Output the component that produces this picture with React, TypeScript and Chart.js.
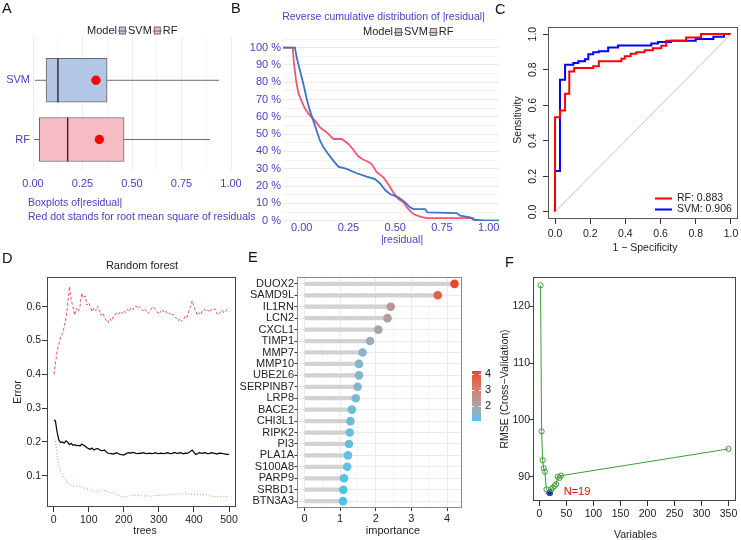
import React, { useEffect, useRef } from "react";
import { Chart, registerables } from "chart.js";

Chart.register(...registerables);

const FONT = '"Liberation Sans", Arial, Helvetica, sans-serif';
const INK = "#222222";
const VIOLET = "#4A40C0";

/* ---------- A: boxplots of |residual| ---------- */
const boxModels = ["SVM", "RF"];
const boxMin = [0.01, 0.005];
const boxQ1 = [0.066, 0.032];
const boxMedian = [0.126, 0.175];
const boxQ3 = [0.374, 0.46];
const boxMax = [0.94, 0.894];
const boxRmse = [0.318, 0.335];
const boxFill = ["#B3C6E5", "#F6BCC5"];
const boxTicks = [0, 0.125, 0.25, 0.375, 0.5, 0.625, 0.75, 0.875, 1];

/* ---------- B: reverse cumulative distribution ---------- */
const cdfTicksX = [0, 0.25, 0.5, 0.75, 1];
const cdfTicksY = [0, 5, 10, 15, 20, 25, 30, 35, 40, 45, 50, 55, 60, 65, 70, 75, 80, 85, 90, 95, 100, 105];
const svmResid = [-0.1, -0.036, -0.027, -0.009, 0.009, 0.027, 0.044, 0.062, 0.08, 0.098, 0.116, 0.142, 0.169, 0.196, 0.24, 0.294, 0.348, 0.392, 0.419, 0.446, 0.472, 0.517, 0.553, 0.579, 0.597, 0.66, 0.672, 0.829, 0.847, 0.9, 0.918, 0.98, 1.055];
const svmShare = [100, 100, 94.4, 86.7, 79, 70.3, 63.6, 57.8, 52, 46.2, 42.4, 38.5, 34.7, 31.2, 29.9, 27.4, 25.4, 24, 21.5, 17.7, 15.4, 13.5, 10.6, 7.7, 6.7, 6.7, 4.8, 4.4, 2.9, 1.9, 0.6, 0, 0];
const rfResid = [-0.1, -0.048, -0.041, -0.03, -0.018, 0, 0.018, 0.044, 0.071, 0.098, 0.134, 0.169, 0.214, 0.25, 0.276, 0.3, 0.325, 0.348, 0.374, 0.401, 0.437, 0.463, 0.49, 0.517, 0.544, 0.57, 0.597, 0.633, 0.668, 0.918, 0.927, 1.055];
const rfShare = [100, 100, 90.6, 81, 74, 69, 64.6, 60.7, 57.8, 53.9, 51, 47.2, 47.2, 44.3, 41, 37.5, 35.5, 34.5, 32.7, 28, 25, 21, 16.3, 12.5, 10.6, 6.7, 3.8, 2.3, 1.5, 1.5, 0, 0];

/* ---------- C: ROC curves ---------- */
const rocTicks = [0, 0.2, 0.4, 0.6, 0.8, 1];
const rfFpr = [0, 0, 0.028, 0.028, 0.057, 0.057, 0.081, 0.081, 0.109, 0.109, 0.217, 0.217, 0.249, 0.249, 0.377, 0.377, 0.396, 0.396, 0.43, 0.43, 0.462, 0.462, 0.509, 0.509, 0.556, 0.556, 0.604, 0.604, 0.632, 0.632, 0.745, 0.745, 0.83, 0.83, 1];
const rfTpr = [0, 0.532, 0.532, 0.57, 0.57, 0.664, 0.664, 0.79, 0.79, 0.809, 0.809, 0.819, 0.819, 0.847, 0.847, 0.862, 0.862, 0.875, 0.875, 0.889, 0.889, 0.898, 0.898, 0.909, 0.909, 0.921, 0.921, 0.934, 0.934, 0.962, 0.962, 0.981, 0.981, 1, 1];
const svmFpr = [0, 0, 0.028, 0.028, 0.057, 0.057, 0.104, 0.104, 0.132, 0.132, 0.17, 0.17, 0.189, 0.189, 0.217, 0.217, 0.249, 0.249, 0.302, 0.302, 0.358, 0.358, 0.547, 0.547, 0.585, 0.585, 0.66, 0.66, 0.8, 0.8, 0.9, 0.9, 0.96, 0.96, 1];
const svmTpr = [0, 0.23, 0.23, 0.743, 0.743, 0.828, 0.828, 0.838, 0.838, 0.847, 0.847, 0.858, 0.858, 0.887, 0.887, 0.898, 0.898, 0.904, 0.904, 0.925, 0.925, 0.936, 0.936, 0.947, 0.947, 0.955, 0.955, 0.962, 0.962, 0.972, 0.972, 0.985, 0.985, 1, 1];
const aucRF = 0.883;
const aucSVM = 0.906;

/* ---------- D: random forest error by number of trees ---------- */
const trees = [1, 5, 10, 15, 20, 25, 30, 35, 40, 45, 50, 55, 60, 65, 70, 75, 80, 85, 90, 95, 100, 105, 110, 115, 120, 125, 130, 135, 140, 145, 150, 155, 160, 165, 170, 175, 180, 185, 190, 195, 200, 205, 210, 215, 220, 225, 230, 235, 240, 245, 250, 255, 260, 265, 270, 275, 280, 285, 290, 295, 300, 305, 310, 315, 320, 325, 330, 335, 340, 345, 350, 355, 360, 365, 370, 375, 380, 385, 390, 395, 400, 405, 410, 415, 420, 425, 430, 435, 440, 445, 450, 455, 460, 465, 470, 475, 480, 485, 490, 495, 500];
const errOOB = [
  0.265, 0.262, 0.228, 0.205, 0.198, 0.2, 0.196, 0.203, 0.199, 0.192,
  0.196, 0.19, 0.192, 0.189, 0.19, 0.188, 0.193, 0.191, 0.187, 0.183,
  0.18, 0.178, 0.182, 0.176, 0.179, 0.181, 0.177, 0.175, 0.174, 0.176,
  0.17, 0.167, 0.165, 0.166, 0.164, 0.166, 0.168, 0.165, 0.163, 0.162,
  0.161, 0.164, 0.167, 0.168, 0.167, 0.169, 0.168, 0.166, 0.165, 0.167,
  0.166, 0.168, 0.167, 0.165, 0.166, 0.167, 0.165, 0.166, 0.168, 0.166,
  0.165, 0.167, 0.166, 0.165, 0.167, 0.168, 0.166, 0.165, 0.167, 0.169,
  0.167, 0.166, 0.168, 0.167, 0.165, 0.167, 0.166, 0.168, 0.172, 0.176,
  0.17, 0.163, 0.165, 0.168, 0.167, 0.166, 0.168, 0.167, 0.165, 0.166,
  0.168, 0.167, 0.166, 0.164, 0.166, 0.167, 0.166, 0.165, 0.164, 0.163,
  0.163,
];
const errClass1 = [
  0.4, 0.43, 0.47, 0.49, 0.51, 0.52, 0.54, 0.565, 0.605, 0.66,
  0.62, 0.6, 0.575, 0.595, 0.585, 0.6, 0.64, 0.625, 0.632, 0.605,
  0.612, 0.6, 0.585, 0.596, 0.588, 0.602, 0.59, 0.575, 0.582, 0.568,
  0.56, 0.552, 0.565, 0.558, 0.57, 0.575, 0.583, 0.578, 0.586, 0.58,
  0.588, 0.582, 0.592, 0.586, 0.596, 0.59, 0.598, 0.603, 0.595, 0.6,
  0.592, 0.588, 0.594, 0.585, 0.58, 0.588, 0.596, 0.6, 0.592, 0.585,
  0.578, 0.586, 0.592, 0.584, 0.588, 0.578, 0.582, 0.574, 0.578, 0.57,
  0.566, 0.558, 0.565, 0.556, 0.562, 0.572, 0.568, 0.585, 0.598, 0.618,
  0.6, 0.588, 0.575, 0.582, 0.576, 0.59, 0.592, 0.586, 0.59, 0.584,
  0.592, 0.588, 0.594, 0.58, 0.576, 0.584, 0.59, 0.582, 0.586, 0.592,
  0.586,
];
const errClass2 = [
  0.21, 0.205, 0.16, 0.128, 0.112, 0.102, 0.092, 0.085, 0.078, 0.074,
  0.071, 0.069, 0.068, 0.07, 0.072, 0.069, 0.066, 0.064, 0.063, 0.061,
  0.059, 0.058, 0.056, 0.054, 0.053, 0.052, 0.055, 0.057, 0.058, 0.056,
  0.054, 0.052, 0.05, 0.049, 0.047, 0.045, 0.043, 0.041, 0.039, 0.037,
  0.036, 0.038, 0.039, 0.041, 0.04, 0.042, 0.041, 0.043, 0.042, 0.041,
  0.04, 0.039, 0.04, 0.041, 0.04, 0.039, 0.04, 0.041, 0.04, 0.042,
  0.041, 0.042, 0.043, 0.042, 0.041, 0.043, 0.044, 0.045, 0.046, 0.045,
  0.046, 0.047, 0.046, 0.045, 0.046, 0.047, 0.046, 0.045, 0.046, 0.045,
  0.044, 0.045, 0.046, 0.045, 0.044, 0.043, 0.044, 0.043, 0.044, 0.042,
  0.04, 0.039, 0.038, 0.038, 0.037, 0.038, 0.038, 0.037, 0.038, 0.039,
  0.038,
];
const treeTicks = [0, 100, 200, 300, 400, 500];
const errTicks = [0.1, 0.2, 0.3, 0.4, 0.5, 0.6];

/* ---------- E: variable importance ---------- */
const genes = ["DUOX2", "SAMD9L", "IL1RN", "LCN2", "CXCL1", "TIMP1", "MMP7", "MMP10", "UBE2L6", "SERPINB7", "LRP8", "BACE2", "CHI3L1", "RIPK2", "PI3", "PLA1A", "S100A8", "PARP9", "SRBD1", "BTN3A3"];
const importance = [4.21, 3.74, 2.42, 2.33, 2.07, 1.84, 1.63, 1.53, 1.53, 1.49, 1.44, 1.33, 1.29, 1.27, 1.25, 1.22, 1.2, 1.11, 1.09, 1.08];
const impTicks = [0, 0.5, 1, 1.5, 2, 2.5, 3, 3.5, 4];
const impLegendTicks = [2, 3, 4];
const impLow = "#4BC4E7";
const impHigh = "#E8472A";

/* ---------- F: cross-validated RMSE by number of variables ---------- */
const nVars = [2, 4, 6, 8, 10, 13, 19, 22, 25, 28, 31, 34, 37, 40, 350];
const rmse = [123.7, 98.0, 92.9, 91.5, 90.9, 87.8, 87.2, 87.8, 88.1, 88.4, 88.7, 90.0, 89.8, 90.2, 94.9];
const bestN = 19;
const varTicks = [0, 50, 100, 150, 200, 250, 300, 350];
const rmseTicks = [90, 100, 110, 120];

/* ---------- helpers ---------- */
type Rect = { x0: number; y0: number; x1: number; y1: number };
type Area = { left: number; top: number; right: number; bottom: number };

const fnt = (size: number, weight = "normal") => `${weight} ${size}px ${FONT}`;

function zeroPad(s: any) {
  s.paddingLeft = 0;
  s.paddingRight = 0;
  s.paddingTop = 0;
  s.paddingBottom = 0;
}

function geometry(c: Rect, a: Area) {
  return {
    layout: { padding: { left: 0, top: a.top - c.y0, right: c.x1 - a.right, bottom: 0 } },
    yFit: (s: any) => {
      s.width = a.left - c.x0;
      zeroPad(s);
    },
    xFit: (s: any) => {
      s.height = c.y1 - a.bottom;
      zeroPad(s);
    },
  };
}

const fixedTicks = (vals: number[]) => (s: any) => {
  s.ticks = vals.map((v) => ({ value: v }));
};

function drawText(ctx: CanvasRenderingContext2D, s: string, x: number, y: number, o: any = {}) {
  ctx.save();
  ctx.font = fnt(o.size ?? 10.5, o.weight ?? "normal");
  ctx.fillStyle = o.color ?? INK;
  ctx.textAlign = o.align ?? "center";
  ctx.textBaseline = o.baseline ?? "middle";
  ctx.translate(x, y);
  if (o.rotate) ctx.rotate(o.rotate);
  ctx.fillText(s, 0, 0);
  ctx.restore();
}

function pageArea(chart: any, r: Rect) {
  const ca = chart.chartArea;
  return { left: ca.left + r.x0, right: ca.right + r.x0, top: ca.top + r.y0, bottom: ca.bottom + r.y0 };
}

function decor(id: string, r: Rect, hook: string, fn: (ctx: CanvasRenderingContext2D, chart: any) => void) {
  return {
    id,
    [hook](chart: any) {
      const ctx = chart.ctx;
      ctx.save();
      ctx.translate(-r.x0, -r.y0);
      fn(ctx, chart);
      ctx.restore();
    },
  };
}

function frameBox(ctx: CanvasRenderingContext2D, chart: any, r: Rect, color: string) {
  const a = pageArea(chart, r);
  ctx.strokeStyle = color;
  ctx.lineWidth = 1;
  ctx.strokeRect(Math.round(a.left) + 0.5, Math.round(a.top) + 0.5, Math.round(a.right - a.left) - 1, Math.round(a.bottom - a.top) - 1);
}

function boxKey(ctx: CanvasRenderingContext2D, x: number, y: number, fill: string) {
  ctx.strokeStyle = "#6A6A6A";
  ctx.lineWidth = 1;
  ctx.beginPath();
  ctx.moveTo(x, y + 0.5);
  ctx.lineTo(x + 9, y + 0.5);
  ctx.stroke();
  ctx.fillStyle = fill;
  ctx.fillRect(x + 1.5, y - 3.5, 6, 7);
  ctx.strokeRect(x + 1.5, y - 3.5, 6, 7);
  ctx.beginPath();
  ctx.moveTo(x + 1.5, y + 0.5);
  ctx.lineTo(x + 7.5, y + 0.5);
  ctx.stroke();
}

function modelLegend(ctx: CanvasRenderingContext2D, x: number, y: number) {
  ctx.font = fnt(11);
  let cx = x;
  drawText(ctx, "Model", cx, y, { size: 11, align: "left" });
  cx += ctx.measureText("Model").width + 1;
  boxModels.forEach((m, i) => {
    boxKey(ctx, cx, y, boxFill[i]);
    cx += 10;
    drawText(ctx, m, cx, y, { size: 11, align: "left" });
    ctx.font = fnt(11);
    cx += ctx.measureText(m).width + 1;
  });
}

/* CIELAB interpolation for the importance colour scale */
function toLin(c: number) {
  c /= 255;
  return c <= 0.04045 ? c / 12.92 : Math.pow((c + 0.055) / 1.055, 2.4);
}
function toSrgb(c: number) {
  const v = c <= 0.0031308 ? 12.92 * c : 1.055 * Math.pow(c, 1 / 2.4) - 0.055;
  return Math.round(Math.max(0, Math.min(1, v)) * 255);
}
function hexToLab(hex: string) {
  const r = toLin(parseInt(hex.slice(1, 3), 16));
  const g = toLin(parseInt(hex.slice(3, 5), 16));
  const b = toLin(parseInt(hex.slice(5, 7), 16));
  const X = (0.4124 * r + 0.3576 * g + 0.1805 * b) / 0.95047;
  const Y = 0.2126 * r + 0.7152 * g + 0.0722 * b;
  const Z = (0.0193 * r + 0.1192 * g + 0.9505 * b) / 1.08883;
  const f = (t: number) => (t > 0.008856 ? Math.cbrt(t) : 7.787 * t + 16 / 116);
  return [116 * f(Y) - 16, 500 * (f(X) - f(Y)), 200 * (f(Y) - f(Z))];
}
function labToRgb(L: number, A: number, B: number) {
  const fy = (L + 16) / 116;
  const fx = fy + A / 500;
  const fz = fy - B / 200;
  const inv = (t: number) => (t * t * t > 0.008856 ? t * t * t : (t - 16 / 116) / 7.787);
  const X = inv(fx) * 0.95047;
  const Y = inv(fy);
  const Z = inv(fz) * 1.08883;
  const r = 3.2406 * X - 1.5372 * Y - 0.4986 * Z;
  const g = -0.9689 * X + 1.8758 * Y + 0.0415 * Z;
  const b = 0.0557 * X - 0.204 * Y + 1.057 * Z;
  return `rgb(${toSrgb(r)},${toSrgb(g)},${toSrgb(b)})`;
}
const labLow = hexToLab(impLow);
const labHigh = hexToLab(impHigh);
const impMin = Math.min(...importance);
const impMax = Math.max(...importance);
function impColor(v: number) {
  const t = (v - impMin) / (impMax - impMin);
  return labToRgb(
    labLow[0] + (labHigh[0] - labLow[0]) * t,
    labLow[1] + (labHigh[1] - labLow[1]) * t,
    labLow[2] + (labHigh[2] - labLow[2]) * t
  );
}

const baseOptions = {
  responsive: false,
  animation: false,
  events: [],
  plugins: { legend: { display: false }, tooltip: { enabled: false }, title: { display: false } },
};

/* ---------- panel A ---------- */
const rA: Rect = { x0: 0, y0: 0, x1: 255, y1: 240 };
const aA: Area = { left: 33, top: 37, right: 231, bottom: 170 };
function makeA() {
  const g = geometry(rA, aA);
  const pos = boxModels.map((_, i) => boxModels.length - i);
  return {
    type: "bar",
    data: {
      datasets: [
        {
          type: "bar",
          data: boxModels.map((_, i) => ({ x: [boxQ1[i], boxQ3[i]], y: pos[i] })),
          backgroundColor: boxFill,
          borderColor: "#6A6A6A",
          borderWidth: 1,
          borderSkipped: false,
          barThickness: 44,
          order: 2,
        },
        {
          type: "scatter",
          data: boxModels.map((_, i) => ({ x: boxRmse[i], y: pos[i] })),
          backgroundColor: "#FF0000",
          borderWidth: 0,
          pointRadius: 4.7,
          order: 1,
        },
      ],
    },
    options: {
      ...baseOptions,
      indexAxis: "y",
      layout: g.layout,
      scales: {
        x: {
          type: "linear",
          min: 0,
          max: 1,
          afterBuildTicks: fixedTicks(boxTicks),
          afterFit: g.xFit,
          grid: { color: "#EBEBEB", lineWidth: (c: any) => ((c.tick.value * 4) % 1 === 0 ? 1 : 0.6), drawTicks: false },
          border: { display: false },
          ticks: {
            color: VIOLET,
            font: { family: FONT, size: 11 },
            padding: 7.5,
            maxRotation: 0,
            autoSkip: false,
            callback: (v: number) => ((v * 4) % 1 === 0 ? v.toFixed(2) : ""),
          },
        },
        y: {
          type: "linear",
          offset: false,
          min: 0.485,
          max: 2.731,
          afterBuildTicks: fixedTicks(pos),
          afterFit: g.yFit,
          grid: { display: false, drawTicks: false, offset: false },
          border: { display: false },
          ticks: {
            color: VIOLET,
            font: { family: FONT, size: 11 },
            padding: 3,
            callback: (v: number) => boxModels[boxModels.length - v],
          },
        },
      },
    },
    plugins: [
      decor("boxparts", rA, "afterDatasetsDraw", (ctx, chart) => {
        const sx = (v: number) => chart.scales.x.getPixelForValue(v) + rA.x0;
        const bars = chart.getDatasetMeta(0).data;
        boxModels.forEach((_, i) => {
          const y = bars[i].y + rA.y0;
          const h = bars[i].height;
          ctx.strokeStyle = "#6A6A6A";
          ctx.lineWidth = 1;
          ctx.beginPath();
          ctx.moveTo(sx(boxMin[i]), y);
          ctx.lineTo(sx(boxQ1[i]), y);
          ctx.moveTo(sx(boxQ3[i]), y);
          ctx.lineTo(sx(boxMax[i]), y);
          ctx.stroke();
          ctx.strokeStyle = "#2B2B2B";
          ctx.lineWidth = 1.4;
          ctx.beginPath();
          ctx.moveTo(sx(boxMedian[i]), y - h / 2);
          ctx.lineTo(sx(boxMedian[i]), y + h / 2);
          ctx.stroke();
        });
      }),
      decor("boxtext", rA, "afterDraw", (ctx) => {
        modelLegend(ctx, 87, 30.5);
        drawText(ctx, "Boxplots of|residual|", 28, 203, { color: VIOLET, align: "left", size: 10.5 });
        drawText(ctx, "Red dot stands for root mean square of residuals", 28, 217, { color: VIOLET, align: "left", size: 10.5 });
      }),
    ],
  };
}

/* ---------- panel B ---------- */
const rB: Rect = { x0: 240, y0: 0, x1: 500, y1: 250 };
const aB: Area = { left: 283, top: 39, right: 499, bottom: 221 };
function makeB() {
  const g = geometry(rB, aB);
  return {
    type: "line",
    data: {
      datasets: [
        { data: svmResid.map((x, i) => ({ x, y: svmShare[i] })), borderColor: "#3D74C5", borderWidth: 1.8, pointRadius: 0 },
        { data: rfResid.map((x, i) => ({ x, y: rfShare[i] })), borderColor: "#F4566F", borderWidth: 1.8, pointRadius: 0 },
      ],
    },
    options: {
      ...baseOptions,
      layout: g.layout,
      scales: {
        x: {
          type: "linear",
          min: -0.1,
          max: 1.055,
          afterBuildTicks: fixedTicks(cdfTicksX),
          afterFit: g.xFit,
          grid: { display: false, drawTicks: false },
          border: { display: false },
          ticks: { color: VIOLET, font: { family: FONT, size: 11 }, padding: 0, maxRotation: 0, autoSkip: false, callback: (v: number) => v.toFixed(2) },
        },
        y: {
          type: "linear",
          min: -0.2,
          max: 105,
          afterBuildTicks: fixedTicks(cdfTicksY),
          afterFit: g.yFit,
          grid: { color: "#EBEBEB", lineWidth: (c: any) => (c.tick.value % 10 === 0 ? 1 : 0.6), drawTicks: false },
          border: { display: false },
          ticks: {
            color: VIOLET,
            font: { family: FONT, size: 11 },
            padding: 2,
            autoSkip: false,
            callback: (v: number) => (v % 10 === 0 && v <= 100 ? `${v} %` : ""),
          },
        },
      },
    },
    plugins: [
      decor("cdftext", rB, "afterDraw", (ctx) => {
        drawText(ctx, "Reverse cumulative distribution of |residual|", 383.5, 17, { color: VIOLET, size: 10.5 });
        modelLegend(ctx, 363, 32);
        drawText(ctx, "|residual|", 402, 240, { color: VIOLET, size: 10.5 });
      }),
    ],
  };
}

/* ---------- panel C ---------- */
const rC: Rect = { x0: 495, y0: 0, x1: 741, y1: 255 };
const aC: Area = { left: 548, top: 27, right: 738, bottom: 219 };
function makeC() {
  const g = geometry(rC, aC);
  const axisGrid = { drawOnChartArea: false, drawTicks: true, tickLength: 5, color: "#333333" };
  return {
    type: "line",
    data: {
      datasets: [
        { data: [{ x: 0, y: 0 }, { x: 1, y: 1 }], borderColor: "#C4C4C4", borderWidth: 1, pointRadius: 0 },
        { data: rfFpr.map((x, i) => ({ x, y: rfTpr[i] })), borderColor: "#FF0000", borderWidth: 2, pointRadius: 0 },
        { data: svmFpr.map((x, i) => ({ x, y: svmTpr[i] })), borderColor: "#0000FF", borderWidth: 2, pointRadius: 0 },
      ],
    },
    options: {
      ...baseOptions,
      layout: g.layout,
      scales: {
        x: {
          type: "linear",
          min: -0.04,
          max: 1.04,
          afterBuildTicks: fixedTicks(rocTicks),
          afterFit: g.xFit,
          grid: axisGrid,
          border: { display: false },
          ticks: { color: INK, font: { family: FONT, size: 10.5 }, padding: 4, maxRotation: 0, autoSkip: false, callback: (v: number) => v.toFixed(1) },
        },
        y: {
          type: "linear",
          min: -0.04,
          max: 1.04,
          afterBuildTicks: fixedTicks(rocTicks),
          afterFit: g.yFit,
          grid: axisGrid,
          border: { display: false },
          ticks: { display: false },
        },
      },
    },
    plugins: [
      decor("roctext", rC, "afterDraw", (ctx, chart) => {
        frameBox(ctx, chart, rC, "#555555");
        const sy = (v: number) => chart.scales.y.getPixelForValue(v) + rC.y0;
        rocTicks.forEach((v) => drawText(ctx, v.toFixed(1), 533, sy(v), { rotate: -Math.PI / 2 }));
        drawText(ctx, "Sensitivity", 518, 120, { rotate: -Math.PI / 2 });
        drawText(ctx, "1 \u2212 Specificity", 645, 248);
        const rows = [
          { t: `RF: ${aucRF.toFixed(3)}`, c: "#FF0000", y: 198.5 },
          { t: `SVM: ${aucSVM.toFixed(3)}`, c: "#0000FF", y: 209.5 },
        ];
        rows.forEach((r) => {
          ctx.strokeStyle = r.c;
          ctx.lineWidth = 2;
          ctx.beginPath();
          ctx.moveTo(655, r.y);
          ctx.lineTo(672, r.y);
          ctx.stroke();
          drawText(ctx, r.t, 677, r.y, { align: "left" });
        });
      }),
    ],
  };
}

/* ---------- panel D ---------- */
const rD: Rect = { x0: 0, y0: 255, x1: 245, y1: 540 };
const aD: Area = { left: 47, top: 277, right: 236, bottom: 507 };
function makeD() {
  const g = geometry(rD, aD);
  const axisGrid = { drawOnChartArea: false, drawTicks: true, tickLength: 5, color: "#333333" };
  const series = (vals: number[]) => trees.map((t, i) => ({ x: t, y: vals[i] }));
  return {
    type: "line",
    data: {
      datasets: [
        { data: series(errOOB), borderColor: "#000000", borderWidth: 1.2, pointRadius: 0 },
        { data: series(errClass1), borderColor: "#DF536B", borderWidth: 1, borderDash: [3, 2], pointRadius: 0 },
        { data: series(errClass2), borderColor: "#61D04F", borderWidth: 1, borderDash: [1, 2], pointRadius: 0 },
      ],
    },
    options: {
      ...baseOptions,
      layout: g.layout,
      scales: {
        x: {
          type: "linear",
          min: -18.96,
          max: 519.96,
          afterBuildTicks: fixedTicks(treeTicks),
          afterFit: g.xFit,
          grid: axisGrid,
          border: { display: false },
          ticks: { color: INK, font: { family: FONT, size: 10.5 }, padding: 2, maxRotation: 0, autoSkip: false },
        },
        y: {
          type: "linear",
          min: 0.0074,
          max: 0.688,
          afterBuildTicks: fixedTicks(errTicks),
          afterFit: g.yFit,
          grid: axisGrid,
          border: { display: false },
          ticks: { color: INK, font: { family: FONT, size: 10.5 }, padding: 1, callback: (v: number) => v.toFixed(1) },
        },
      },
    },
    plugins: [
      decor("rftext", rD, "afterDraw", (ctx, chart) => {
        frameBox(ctx, chart, rD, "#444444");
        drawText(ctx, "Random forest", 142, 266, { size: 11 });
        drawText(ctx, "Error", 18, 392, { rotate: -Math.PI / 2 });
        drawText(ctx, "trees", 145, 531);
      }),
    ],
  };
}

/* ---------- panel E ---------- */
const rE: Rect = { x0: 236, y0: 255, x1: 495, y1: 540 };
const aE: Area = { left: 297, top: 277, right: 462, bottom: 508 };
function makeE() {
  const g = geometry(rE, aE);
  const pos = genes.map((_, i) => genes.length - i);
  const pts = genes.map((_, i) => ({ x: importance[i], y: pos[i] }));
  return {
    type: "bar",
    data: {
      datasets: [
        { type: "bar", data: pts, backgroundColor: "#D2D2D2", barThickness: 3.6, borderWidth: 0, order: 2 },
        { type: "scatter", data: pts, backgroundColor: importance.map(impColor), borderWidth: 0, pointRadius: 4.3, order: 1 },
      ],
    },
    options: {
      ...baseOptions,
      indexAxis: "y",
      layout: g.layout,
      scales: {
        x: {
          type: "linear",
          min: -0.21,
          max: 4.42,
          afterBuildTicks: fixedTicks(impTicks),
          afterFit: g.xFit,
          grid: {
            color: "#EBEBEB",
            lineWidth: (c: any) => (c.tick && c.tick.value % 1 === 0 ? 1 : 0.5),
            tickColor: (c: any) => (c.tick && c.tick.value % 1 === 0 ? "#333333" : "rgba(0,0,0,0)"),
            tickLength: 3,
          },
          border: { display: false },
          ticks: {
            color: INK,
            font: { family: FONT, size: 11 },
            padding: 1,
            maxRotation: 0,
            autoSkip: false,
            callback: (v: number) => (v % 1 === 0 ? String(v) : ""),
          },
        },
        y: {
          type: "linear",
          offset: false,
          min: 0.4,
          max: genes.length + 0.6,
          afterBuildTicks: fixedTicks(pos),
          afterFit: g.yFit,
          grid: { color: "#EBEBEB", tickColor: "#333333", tickLength: 2.5, offset: false },
          border: { display: false },
          ticks: { color: INK, font: { family: FONT, size: 11 }, padding: 0.5, autoSkip: false, callback: (v: number) => genes[genes.length - v] },
        },
      },
    },
    plugins: [
      decor("imptext", rE, "afterDraw", (ctx, chart) => {
        frameBox(ctx, chart, rE, "#8A8A8A");
        drawText(ctx, "importance", 393, 531, { size: 11 });
        // colour bar legend
        const bx = 472;
        const bw = 9;
        const top = 371;
        const bottom = 421;
        const vy = (v: number) => bottom - ((v - impMin) / (impMax - impMin)) * (bottom - top);
        for (let y = top; y < bottom; y++) {
          const v = impMin + ((bottom - y - 0.5) / (bottom - top)) * (impMax - impMin);
          ctx.fillStyle = impColor(v);
          ctx.fillRect(bx, y, bw, 1);
        }
        impLegendTicks.forEach((v) => {
          const y = Math.round(vy(v)) + 0.5;
          ctx.strokeStyle = "#FFFFFF";
          ctx.lineWidth = 1;
          ctx.beginPath();
          ctx.moveTo(bx, y);
          ctx.lineTo(bx + 2, y);
          ctx.moveTo(bx + bw - 2, y);
          ctx.lineTo(bx + bw, y);
          ctx.stroke();
          drawText(ctx, String(v), bx + bw + 4, vy(v), { align: "left", size: 11 });
        });
      }),
    ],
  };
}

/* ---------- panel F ---------- */
const rF: Rect = { x0: 495, y0: 255, x1: 741, y1: 540 };
const aF: Area = { left: 533, top: 277, right: 738, bottom: 501 };
function makeF() {
  const g = geometry(rF, aF);
  const axisGrid = { drawOnChartArea: false, drawTicks: true, tickLength: 4, color: "#333333" };
  const best = { x: bestN, y: rmse[nVars.indexOf(bestN)] };
  const green = "#3E9A3E";
  return {
    type: "line",
    data: {
      datasets: [
        {
          data: nVars.map((n, i) => ({ x: n, y: rmse[i] })),
          borderColor: green,
          borderWidth: 1,
          pointRadius: 2.6,
          pointBorderWidth: 1,
          pointBorderColor: green,
          pointBackgroundColor: "rgba(0,0,0,0)",
        },
        { type: "scatter", data: [best], backgroundColor: "#0000FF", borderColor: "#0000FF", pointRadius: 3 },
      ],
    },
    options: {
      ...baseOptions,
      layout: g.layout,
      scales: {
        x: {
          type: "linear",
          min: -11.92,
          max: 363.92,
          afterBuildTicks: fixedTicks(varTicks),
          afterFit: g.xFit,
          grid: { ...axisGrid, tickLength: 5 },
          border: { display: false },
          ticks: { color: INK, font: { family: FONT, size: 10.5 }, padding: 2, maxRotation: 0, autoSkip: false },
        },
        y: {
          type: "linear",
          min: 85.74,
          max: 125.16,
          afterBuildTicks: fixedTicks(rmseTicks),
          afterFit: g.yFit,
          grid: axisGrid,
          border: { display: false },
          ticks: { color: INK, font: { family: FONT, size: 10.5 }, padding: -1 },
        },
      },
    },
    plugins: [
      decor("rmsetext", rF, "afterDraw", (ctx, chart) => {
        frameBox(ctx, chart, rF, "#444444");
        const sx = chart.scales.x.getPixelForValue(best.x) + rF.x0;
        const sy = chart.scales.y.getPixelForValue(best.y) + rF.y0;
        drawText(ctx, `N=${bestN}`, sx + 14, sy - 1, { color: "#FF0000", align: "left", size: 11 });
        drawText(ctx, "RMSE (Cross\u2212Validation)", 505, 389, { rotate: -Math.PI / 2 });
        drawText(ctx, "Variables", 635.5, 535);
      }),
    ],
  };
}

/* ---------- components ---------- */
function ChartBox({ rect, make }: { rect: Rect; make: () => any }) {
  const ref = useRef<HTMLCanvasElement | null>(null);
  useEffect(() => {
    const chart = new Chart(ref.current as HTMLCanvasElement, make());
    return () => chart.destroy();
  }, []);
  const w = rect.x1 - rect.x0;
  const h = rect.y1 - rect.y0;
  return (
    <canvas
      ref={ref}
      width={w}
      height={h}
      style={{ position: "absolute", left: rect.x0, top: rect.y0, width: w, height: h }}
    />
  );
}

const panelTags = [
  { t: "A", x: 2, y: 3 },
  { t: "B", x: 231, y: 3 },
  { t: "C", x: 495, y: 4 },
  { t: "D", x: 2, y: 253 },
  { t: "E", x: 248, y: 252 },
  { t: "F", x: 505, y: 257 },
];

export default function App() {
  return (
    <div
      style={{
        position: "fixed",
        left: 0,
        top: 0,
        width: 741,
        height: 540,
        background: "#FFFFFF",
        overflow: "hidden",
        fontFamily: FONT,
      }}
    >
      <ChartBox rect={rA} make={makeA} />
      <ChartBox rect={rB} make={makeB} />
      <ChartBox rect={rC} make={makeC} />
      <ChartBox rect={rD} make={makeD} />
      <ChartBox rect={rE} make={makeE} />
      <ChartBox rect={rF} make={makeF} />
      {panelTags.map((p) => (
        <div
          key={p.t}
          style={{
            position: "absolute",
            left: p.x,
            top: p.y - 2,
            fontSize: 14.5,
            lineHeight: 1,
            color: "#111111",
          }}
        >
          {p.t}
        </div>
      ))}
    </div>
  );
}
